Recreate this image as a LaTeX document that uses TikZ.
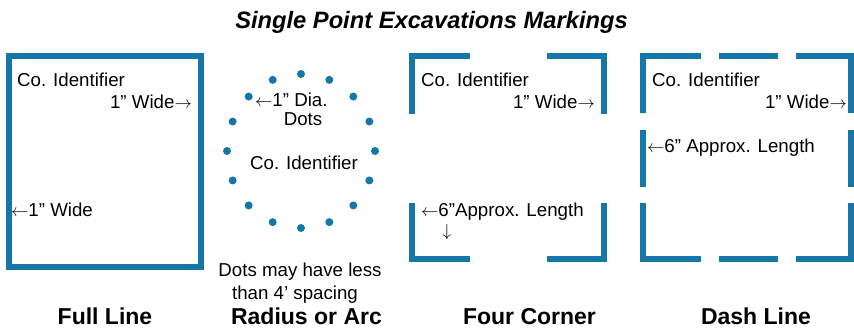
\documentclass[tikz,border=0pt]{standalone}
\usepackage{fontspec}
\setmainfont{Liberation Sans}
\definecolor{markblue}{RGB}{21,119,168}

\begin{document}
\begin{tikzpicture}[x=1pt,y=-1pt,
                    mark line/.style={draw=markblue,line width=6pt,line join=miter},
                    dot/.style={circle,fill=markblue,inner sep=0pt,minimum size=8pt},
                    note/.style={inner sep=0pt,font=\fontsize{18.7}{22}\selectfont},
                    caption/.style={inner sep=0pt,font=\fontsize{23}{27}\selectfont\bfseries}
                   ]
   \useasboundingbox (0,0) rectangle (854,331);
   \node[inner sep=0pt,anchor=base,font=\fontsize{23.7}{28}\selectfont\bfseries\itshape] (title) at (431.5,29) {Single Point Excavations Markings};

   % full line
   \draw[mark line] (8.5,56) rectangle (200.5,267);
   \node[note,anchor=base west] (fullid) at (17,86.7) {Co. Identifier};
   \node[note,anchor=base east] (fullwide) at (192,108.3) {1” Wide$\rightarrow$};
   \node[note,anchor=base west] (fullleft) at (11,216.7) {$\leftarrow$1” Wide};
   \node[caption,anchor=base] (fullcap) at (105,324) {Full Line};

   % radius or arc
   \foreach \i in {0,...,15}
     \node[dot] (d\i) at ({301+74*cos(22.5*\i)},{151+77*sin(22.5*\i)}) {};
   \node[note,anchor=base west] (dia) at (255,106.7) {$\leftarrow$1” Dia.};
   \node[note,anchor=base] (dots) at (303,126) {Dots};
   \node[note,anchor=base] (arcid) at (304,169.3) {Co. Identifier};
   \node[note,anchor=base] (spacing) at (300,276.7) {Dots may have less};
   \node[note,anchor=base] (spacingb) at (295,299) {than 4’ spacing};
   \node[caption,anchor=base] (arccap) at (306.5,324) {Radius or Arc};

   % four corner
   \draw[mark line] (470,56.5) -- (412,56.5) -- (412,114);
   \draw[mark line] (547,56.5) -- (604,56.5) -- (604,114);
   \draw[mark line] (412,203) -- (412,259) -- (470,259);
   \draw[mark line] (547,259) -- (604,259) -- (604,203);
   \node[note,anchor=base west] (cornerid) at (421,86.7) {Co. Identifier};
   \node[note,anchor=base east] (cornerwide) at (595,108.3) {1” Wide$\rightarrow$};
   \node[note,anchor=base west] (cornerlen) at (421,216.7) {$\leftarrow$6”Approx. Length};
   \node[note] (cornerdown) at (447,232) {$\downarrow$};
   \node[caption,anchor=base] (cornercap) at (529.5,324) {Four Corner};

   % dash line
   \draw[mark line] (701,56) -- (643,56) -- (643,113);
   \draw[mark line] (796,56) -- (851,56) -- (851,113);
   \draw[mark line] (643,203) -- (643,258.5) -- (701,258.5);
   \draw[mark line] (796,258.5) -- (851,258.5) -- (851,203);
   \draw[mark line] (719,56) -- (778,56);
   \draw[mark line] (719,258.5) -- (778,258.5);
   \draw[mark line] (643,130) -- (643,187);
   \draw[mark line] (851,130) -- (851,187);
   \node[note,anchor=base west] (dashid) at (652,86.7) {Co. Identifier};
   \node[note,anchor=base east] (dashwide) at (847,108.3) {1” Wide$\rightarrow$};
   \node[note,anchor=base west] (dashlen) at (647,152.3) {$\leftarrow$6” Approx. Length};
   \node[caption,anchor=base] (dashcap) at (756,324) {Dash Line};
\end{tikzpicture}
\end{document}
